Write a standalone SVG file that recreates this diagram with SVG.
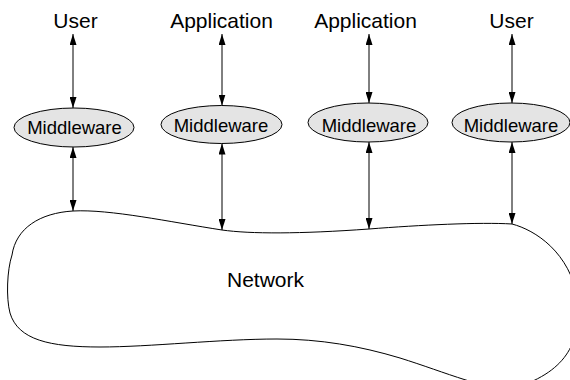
<svg xmlns="http://www.w3.org/2000/svg" width="570" height="380" viewBox="0 0 570 380">
  <style>
    .label { font-family: "Liberation Sans", Arial, Helvetica, sans-serif; font-size: 21px; fill: #000; text-anchor: middle; }
    .mw-text { font-family: "Liberation Sans", Arial, Helvetica, sans-serif; font-size: 18.5px; fill: #000; text-anchor: middle; }
    .mw { fill: #e4e4e4; stroke: #000; stroke-width: 1; }
    .link { stroke: #000; stroke-width: 1; fill: none; marker-start: url(#head); marker-end: url(#head); }
    .cloud { fill: #fff; stroke: #000; stroke-width: 1; }
  </style>
  <defs>
    <marker id="head" viewBox="0 0 11 7" refX="11" refY="3.5" markerWidth="11" markerHeight="7" markerUnits="userSpaceOnUse" orient="auto-start-reverse">
      <path d="M0,0 L11,3.5 L0,7 Z" fill="#000"/>
    </marker>
  </defs>

  <rect width="570" height="380" fill="#fff"/>

  <!-- network cloud -->
  <g id="network">
    <path class="cloud" d="M73,211 C110,209 170,222 222,230 C250,234 300,234 369,229 C420,225 480,222 512,224 C535,230 570,252 578,300 C580,340 570,370 515,388 C490,392 445,372 400,358 C360,346 320,339 277,339 C220,339 150,347 100,347 C50,347 18,340 10,313 C6,298 7,270 12,255 C16,228 40,213 73,211 Z"/>
    <text class="label" x="265.5" y="287">Network</text>
  </g>

  <!-- end points -->
  <g id="user-left">
    <text class="label" x="75.5" y="28">User</text>
  </g>
  <g id="app-left">
    <text class="label" x="221.5" y="28">Application</text>
  </g>
  <g id="app-right">
    <text class="label" x="365.5" y="28">Application</text>
  </g>
  <g id="user-right">
    <text class="label" x="511.5" y="28">User</text>
  </g>

  <!-- middleware layer -->
  <g id="mw1">
    <ellipse class="mw" cx="74" cy="127.5" rx="60" ry="19.5"/>
    <text class="mw-text" x="74.5" y="134">Middleware</text>
  </g>
  <g id="mw2">
    <ellipse class="mw" cx="221.5" cy="124.5" rx="60.5" ry="19"/>
    <text class="mw-text" x="221" y="132">Middleware</text>
  </g>
  <g id="mw3">
    <ellipse class="mw" cx="368" cy="122.5" rx="60" ry="19.5"/>
    <text class="mw-text" x="369" y="131.5">Middleware</text>
  </g>
  <g id="mw4">
    <ellipse class="mw" cx="511" cy="122.5" rx="59" ry="19.5"/>
    <text class="mw-text" x="511" y="131.5">Middleware</text>
  </g>

  <!-- connectors -->
  <g id="connectors">
    <line class="link" x1="73" y1="34" x2="73" y2="108"/>
    <line class="link" x1="222" y1="34" x2="222" y2="105.5"/>
    <line class="link" x1="369" y1="34" x2="369" y2="103"/>
    <line class="link" x1="512" y1="34" x2="512" y2="103"/>
    <line class="link" x1="73" y1="147" x2="73" y2="211"/>
    <line class="link" x1="222" y1="143.5" x2="222" y2="230"/>
    <line class="link" x1="369" y1="142" x2="369" y2="229"/>
    <line class="link" x1="512" y1="142" x2="512" y2="224"/>
  </g>
</svg>
